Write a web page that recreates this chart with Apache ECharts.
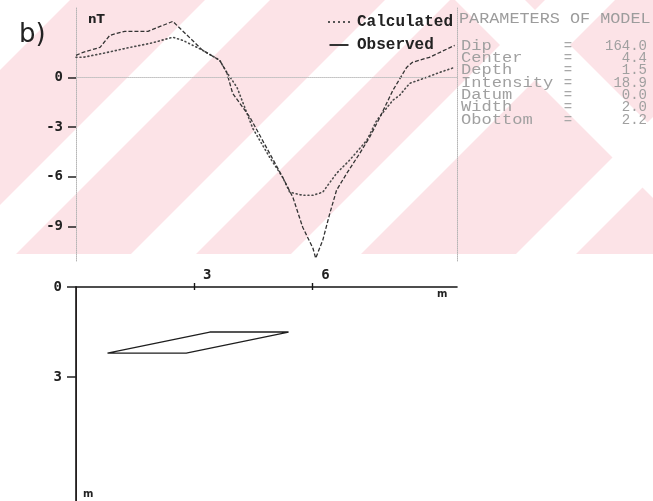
<!DOCTYPE html>
<html>
<head>
<meta charset="utf-8">
<script src="https://cdn.jsdelivr.net/npm/echarts@6/dist/echarts.min.js"></script>
<style>
  html, body { margin: 0; padding: 0; background: #fff; }
  #chart { width: 653px; height: 501px; }
</style>
</head>
<body>
<div id="chart"></div>
<script>
// Magnetic profile (nT) along the traverse (m)
const observedX = [0, 0.18, 0.61, 0.86, 1.24, 1.83, 2.46, 3.22, 3.65, 3.83, 3.98, 4.42, 4.85, 5.25, 5.51, 5.76, 6.02, 6.09, 6.27, 6.45, 6.62, 6.88, 7.21, 7.46, 7.72, 8.05, 8.40, 8.55, 8.98, 9.62];
const observedY = [1.33, 1.51, 1.81, 2.54, 2.78, 2.78, 3.38, 1.63, 1.03, 0.30, -0.97, -2.42, -4.29, -6.04, -7.25, -9.06, -10.33, -10.93, -9.84, -8.21, -6.82, -5.80, -4.59, -3.62, -2.42, -0.79, 0.60, 0.91, 1.21, 1.93];
const calculatedX = [0, 0.18, 0.69, 1.37, 1.88, 2.46, 2.72, 3.22, 3.65, 3.83, 4.09, 4.49, 4.92, 5.25, 5.43, 5.76, 6.02, 6.27, 6.62, 6.95, 7.39, 7.64, 8.05, 8.22, 8.48, 8.91, 9.24, 9.62];
const calculatedY = [1.21, 1.21, 1.45, 1.81, 2.05, 2.42, 2.23, 1.63, 1.03, 0.30, -0.60, -3.08, -4.83, -6.04, -6.94, -7.13, -7.13, -6.94, -5.80, -5.01, -3.80, -2.60, -1.39, -1.09, -0.36, 0.00, 0.30, 0.60];

// Dipping sheet cross-section: distance (m), depth (m)
const bodyX = [0.8, 3.4, 5.4, 2.8, 0.8];
const bodyDepth = [2.2, 1.5, 1.5, 2.2, 2.2];

// Axis ticks
const fieldTicks = [0, -3, -6, -9];
const distanceTicks = [3, 6];
const depthTicks = [0, 3];

// Model parameters
const paramNames = ['Dip', 'Center', 'Depth', 'Intensity', 'Datum', 'Width', 'Obottom'];
const paramValues = ['164.0', '4.4', '1.5', '18.9', '0.0', '2.0', '2.2'];

// Background stripes: rising bands (x + y) and one falling band (x - y)
const risingBands = [[-10, 70], [205, 270], [385, 450], [545, 615], [770, 830]];
const fallingBands = [[455, 525]];

const pair = (xs, ys) => xs.map((x, i) => [x, ys[i]]);

const W = 653;
const bandBottom = 254;

const graphics = [];
graphics.push({
  type: 'rect', z: -10, silent: true,
  shape: { x: 0, y: 0, width: W, height: bandBottom },
  style: { fill: '#fce3e7' }
});
risingBands.forEach(([c1, c2]) => {
  graphics.push({
    type: 'polygon', z: -9, silent: true,
    shape: { points: [[c1 - bandBottom, bandBottom], [c1, 0], [c2, 0], [c2 - bandBottom, bandBottom]] },
    style: { fill: '#ffffff' }
  });
});
fallingBands.forEach(([d1, d2]) => {
  graphics.push({
    type: 'polygon', z: -9, silent: true,
    shape: { points: [[d1, 0], [d1 + bandBottom, bandBottom], [d2 + bandBottom, bandBottom], [d2, 0]] },
    style: { fill: '#ffffff' }
  });
});

// Panel labels
graphics.push({ type: 'text', x: 19, y: 35, style: { text: 'b)', font: '500 26px "DejaVu Sans"', fill: '#222', textVerticalAlign: 'middle' } });
graphics.push({ type: 'text', x: 88, y: 20, style: { text: 'nT', font: 'bold 12px "DejaVu Sans"', fill: '#222', textVerticalAlign: 'middle' } });
graphics.push({ type: 'text', x: 437, y: 294, style: { text: 'm', font: 'bold 10px "DejaVu Sans"', fill: '#222', textVerticalAlign: 'middle' } });
graphics.push({ type: 'text', x: 83, y: 494, style: { text: 'm', font: 'bold 10px "DejaVu Sans"', fill: '#222', textVerticalAlign: 'middle' } });

// Parameter table
graphics.push({ type: 'text', x: 459, y: 19, scaleX: 1.2, style: { text: 'PARAMETERS OF MODEL', font: '14px "Liberation Mono"', fill: '#9c9c9c', textVerticalAlign: 'middle' } });
paramNames.forEach((name, i) => {
  const y = 46 + i * 12.3;
  graphics.push({ type: 'text', x: 461, y: y, scaleX: 1.22, style: { text: name, font: '14px "Liberation Mono"', fill: '#a0a0a0', textVerticalAlign: 'middle' } });
  graphics.push({ type: 'text', x: 568, y: y, style: { text: '=', font: '14px "Liberation Mono"', fill: '#a8a8a8', textAlign: 'center', textVerticalAlign: 'middle' } });
  graphics.push({ type: 'text', x: 647, y: y, style: { text: paramValues[i], font: '14px "Liberation Mono"', fill: '#a0a0a0', textAlign: 'right', textVerticalAlign: 'middle' } });
});

const tickFont = { fontFamily: 'DejaVu Sans Mono', fontWeight: 'bold', fontSize: 14, color: '#222' };
const dotted = { type: 'dotted', color: '#b5b5b5', width: 1 };

const option = {
  animation: false,
  backgroundColor: '#ffffff',
  graphic: graphics,
  grid: [
    { left: 76, top: 7, width: 381, height: 254 },
    { left: 76, top: 287, width: 381, height: 214 }
  ],
  legend: {
    left: 323, top: 9, orient: 'vertical', itemGap: 7,
    itemWidth: 22, itemHeight: 2,
    textStyle: { fontFamily: 'Liberation Mono', fontWeight: 'bold', fontSize: 16, lineHeight: 16, color: '#222', padding: [0, 0, 0, 2] },
    data: [
      { name: 'Calculated', icon: 'path://M0,0h2v2h-2z M5,0h2v2h-2z M10,0h2v2h-2z M15,0h2v2h-2z M20,0h2v2h-2z' },
      { name: 'Observed', icon: 'path://M3,0h19v2h-19z' }
    ]
  },
  xAxis: [
    { gridIndex: 0, type: 'value', min: 0, max: 9.68, position: 'top',
      axisLine: { show: true, lineStyle: dotted }, axisTick: { show: false }, axisLabel: { show: false }, splitLine: { show: false } },
    { gridIndex: 1, type: 'value', min: 0, max: 9.68, position: 'top',
      axisLine: { show: true, lineStyle: { color: '#151515', width: 1.6 } },
      axisTick: { show: true, inside: true, length: 3, customValues: distanceTicks, lineStyle: { color: '#151515', width: 1.4 } },
      axisLabel: { show: true, customValues: distanceTicks, margin: 5, align: 'left', padding: [0, 0, 0, 9], ...tickFont },
      splitLine: { show: false } },
    { gridIndex: 1, type: 'value', min: 0, max: 9.68, position: 'top',
      axisLine: { show: false },
      axisTick: { show: true, inside: false, length: 4, customValues: distanceTicks, lineStyle: { color: '#151515', width: 1.4 } },
      axisLabel: { show: false }, splitLine: { show: false } }
  ],
  yAxis: [
    { gridIndex: 0, type: 'value', min: -11.1, max: 4.25, position: 'left',
      axisLine: { show: true, lineStyle: dotted },
      axisTick: { show: true, length: 8, customValues: fieldTicks, lineStyle: { color: '#222', width: 1.5 } },
      axisLabel: { show: true, customValues: fieldTicks, margin: 13, formatter: v => String(v).replace('\u2212', '-'), ...tickFont },
      splitLine: { show: false } },
    { gridIndex: 0, type: 'value', min: -11.1, max: 4.25, position: 'right',
      axisLine: { show: true, lineStyle: dotted }, axisTick: { show: false }, axisLabel: { show: false }, splitLine: { show: false } },
    { gridIndex: 1, type: 'value', min: 0, max: 7.13, inverse: true, position: 'left',
      axisLine: { show: true, lineStyle: { color: '#6a4848', width: 1 } },
      axisTick: { show: true, length: 9, customValues: depthTicks, lineStyle: { color: '#222', width: 1.5 } },
      axisLabel: { show: true, customValues: depthTicks, margin: 14, ...tickFont },
      splitLine: { show: false } },
    { gridIndex: 1, type: 'value', min: 0, max: 7.13, inverse: true, position: 'right',
      axisLine: { show: true, lineStyle: { color: '#151515', width: 1.6 } }, axisTick: { show: false }, axisLabel: { show: false }, splitLine: { show: false } }
  ],
  series: [
    { name: 'Calculated', type: 'line', xAxisIndex: 0, yAxisIndex: 0, symbol: 'none',
      data: pair(calculatedX, calculatedY),
      lineStyle: { color: '#4a4a4a', width: 1.6, type: [1, 3], cap: 'round' },
      itemStyle: { color: '#555' },
      markLine: { silent: true, symbol: 'none', label: { show: false },
        lineStyle: { type: 'dotted', color: '#c4c4c4', width: 1 }, data: [{ yAxis: 0 }] } },
    { name: 'Observed', type: 'line', xAxisIndex: 0, yAxisIndex: 0, symbol: 'none',
      data: pair(observedX, observedY),
      lineStyle: { color: '#333', width: 1.3, type: [4, 2] },
      itemStyle: { color: '#333' } },
    { name: 'Body', type: 'line', xAxisIndex: 1, yAxisIndex: 2, symbol: 'none',
      data: pair(bodyX, bodyDepth),
      lineStyle: { color: '#1e1e1e', width: 1.3 } }
  ]
};

const chart = echarts.init(document.getElementById('chart'), null, { renderer: 'canvas' });
chart.setOption(option);
</script>
</body>
</html>
